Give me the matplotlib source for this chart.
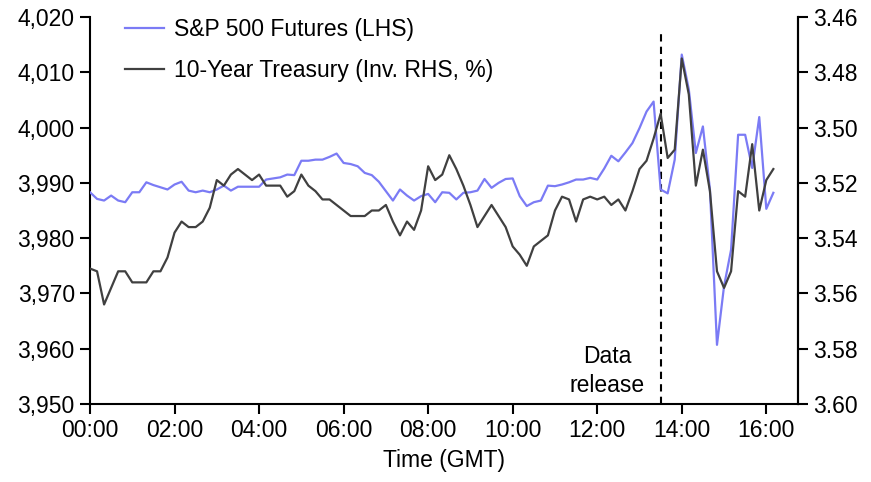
import matplotlib
matplotlib.use("Agg")
import matplotlib.pyplot as plt
from matplotlib.ticker import FuncFormatter, MultipleLocator
import numpy as np

plt.rcParams['font.family'] = ['Liberation Sans', 'DejaVu Sans']

# 10-minute observations starting 00:00 GMT
times = [f"{(10*i)//60:02d}:{(10*i)%60:02d}" for i in range(98)]

spx = [3988.3, 3987.1, 3986.8, 3987.7, 3986.8, 3986.5, 3988.3, 3988.3, 3990.1, 3989.6,
       3989.2, 3988.8, 3989.7, 3990.2, 3988.6, 3988.3, 3988.6, 3988.3, 3988.8, 3989.5,
       3988.6, 3989.3, 3989.3, 3989.3, 3989.3, 3990.6, 3990.8, 3991.0, 3991.5, 3991.4,
       3994.0, 3994.0, 3994.2, 3994.2, 3994.7, 3995.3, 3993.6, 3993.4, 3993.0, 3991.8,
       3991.4, 3990.2, 3988.5, 3986.8, 3988.8, 3987.7, 3986.8, 3987.6, 3988.0, 3986.5,
       3988.3, 3988.2, 3987.0, 3988.2, 3988.3, 3988.6, 3990.7, 3989.1, 3990.0, 3990.7,
       3990.8, 3987.6, 3985.8, 3986.5, 3986.8, 3989.5, 3989.4, 3989.7, 3990.1, 3990.6,
       3990.6, 3990.9, 3990.6, 3992.6, 3994.9, 3993.9, 3995.5, 3997.2, 3999.9, 4002.9,
       4004.7, 3988.8, 3988.1, 3994.2, 4013.2, 4006.9, 3995.4, 4000.2, 3988.8, 3960.7,
       3971.3, 3977.9, 3998.7, 3998.7, 3992.7, 4001.9, 3985.3, 3988.2]

ust10 = [3.551, 3.552, 3.564, 3.558, 3.552, 3.552, 3.556, 3.556, 3.556, 3.552,
         3.552, 3.547, 3.538, 3.534, 3.536, 3.536, 3.534, 3.529, 3.519, 3.521,
         3.517, 3.515, 3.517, 3.519, 3.517, 3.521, 3.521, 3.521, 3.525, 3.523,
         3.517, 3.521, 3.523, 3.526, 3.526, 3.528, 3.530, 3.532, 3.532, 3.532,
         3.530, 3.530, 3.528, 3.534, 3.539, 3.534, 3.537, 3.530, 3.514, 3.519,
         3.517, 3.510, 3.515, 3.521, 3.528, 3.536, 3.532, 3.528, 3.532, 3.536,
         3.543, 3.546, 3.550, 3.543, 3.541, 3.539, 3.530, 3.525, 3.526, 3.534,
         3.526, 3.525, 3.526, 3.525, 3.528, 3.526, 3.530, 3.523, 3.515, 3.512,
         3.504, 3.495, 3.511, 3.508, 3.475, 3.488, 3.521, 3.508, 3.523, 3.552,
         3.558, 3.552, 3.523, 3.525, 3.506, 3.530, 3.519, 3.515]

xticklabels = ["00:00", "02:00", "04:00", "06:00", "08:00", "10:00", "12:00", "14:00", "16:00"]
release_time = "13:30"

def to_hours(t):
    h, m = t.split(":")
    return int(h) + int(m) / 60

x = np.array([to_hours(t) for t in times])

fig = plt.figure(figsize=(8.71, 4.82), dpi=100)
ax = fig.add_axes([90/871, 78/482, 708/871, 387/482])
ax2 = ax.twinx()

blue = "#7B7BF5"
dark = "#404040"
FS = 16.5

l1, = ax.plot(x, spx, color=blue, lw=1.6, label="S&P 500 Futures (LHS)", zorder=3)
l2, = ax2.plot(x, ust10, color=dark, lw=1.6, label="10-Year Treasury (Inv. RHS, %)", zorder=3)

ax.set_xlim(0, 16.75)
ax.set_ylim(3950, 4020)
ax.yaxis.set_major_locator(MultipleLocator(10))
ax.yaxis.set_major_formatter(FuncFormatter(lambda v, p: f"{v:,.0f}"))
ax.set_xticks([to_hours(t) for t in xticklabels])
ax.set_xticklabels(xticklabels)

ax2.set_ylim(3.60, 3.46)
ax2.set_yticks(np.arange(3.46, 3.601, 0.02))
ax2.yaxis.set_major_formatter(FuncFormatter(lambda v, p: f"{v:.2f}"))

for a in (ax, ax2):
    a.spines['top'].set_visible(False)
    for s in a.spines.values():
        s.set_linewidth(1.5)
    a.tick_params(direction='out', length=7, width=1.5, labelsize=FS, pad=4)
ax2.spines['left'].set_visible(False)
ax2.spines['bottom'].set_visible(False)

ax.set_xlabel("Time (GMT)", fontsize=FS, labelpad=5)

xr = to_hours(release_time)
ax.axvline(xr, ymin=0, ymax=0.965, color="black", ls=(0, (3.5, 2.5)), lw=1.5, zorder=2)
ax.text(12.24, 3956, "Data\nrelease", fontsize=FS, ha="center", va="center",
        linespacing=1.3)

ax.legend(handles=[l1, l2], loc="upper left", bbox_to_anchor=(0.05, 0.997),
          frameon=False, fontsize=FS, handlelength=1.7, handletextpad=0.4,
          borderpad=0, borderaxespad=0, labelspacing=0.8)

fig.savefig("out.png", dpi=100)
